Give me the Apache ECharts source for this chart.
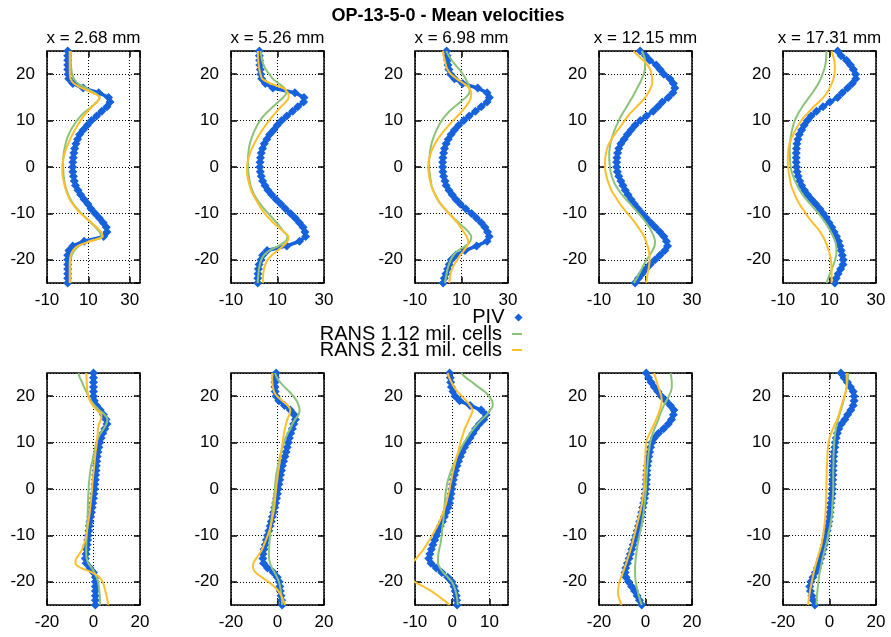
<!DOCTYPE html>
<html>
<head>
<meta charset="utf-8">
<script src="https://cdn.jsdelivr.net/npm/echarts@6/dist/echarts.min.js"></script>
<style>
html, body { margin: 0; padding: 0; background: #fff; }
#chart { width: 891px; height: 637px; }
</style>
</head>
<body>
<div id="chart"></div>
<script>
// profile positions (mm), top to bottom
const yPos = [
    25, 24, 23, 22, 21, 20, 19, 18, 17, 16,
    15, 14, 13, 12, 11, 10, 9, 8, 7, 6,
    5, 4, 3, 2, 1, 0, -1, -2, -3, -4,
    -5, -6, -7, -8, -9, -10, -11, -12, -13, -14,
    -15, -16, -17, -18, -19, -20, -21, -22, -23, -24,
    -25
]
const stations = ['x = 2.68 mm', 'x = 5.26 mm', 'x = 6.98 mm', 'x = 12.15 mm', 'x = 17.31 mm']
const seriesNames = ['PIV', 'RANS 1.12 mil. cells', 'RANS 2.31 mil. cells']
// [min, max, interval] of the x axes
const xRangesTop = [[-10, 35, 20], [-10, 30, 20], [-10, 30, 20], [-10, 30, 20], [-10, 30, 20]]
const xRangesBottom = [[-20, 20, 20], [-20, 20, 20], [-10, 15, 10], [-20, 20, 20], [-20, 20, 20]]

// top row
const top1Piv = [0, 0, 0, 0, 0, 0.2, 0.5, 2.5, 7.5, 15,
    19.8, 20.5, 19, 16.5, 14, 11.5, 9.5, 7.5, 5.8, 4.8,
    4, 3.4, 3, 2.7, 2.5, 2.4, 2.5, 2.8, 3.2, 3.8,
    5, 6.3, 8, 9.8, 11.3, 13.3, 15.3, 17.2, 18.7, 19,
    17.4, 8, 2.5, 0.6, 0, 0, 0, 0, 0, 0,
    0]
const top1Coarse = [1.5, 1.5, 1.5, 1.6, 1.8, 2.2, 3, 5, 9, 13,
    15.5, 14, 11.5, 8.8, 6.3, 4.5, 3, 1.6, 0.5, -0.4,
    -1, -1.5, -1.9, -2.1, -2.2, -2.2, -2.1, -1.9, -1.6, -1.2,
    -0.5, 0.3, 1.4, 2.8, 4.6, 6.6, 9, 11.3, 13.5, 15.4,
    16.3, 10.5, 5.5, 3.2, 2, 1.5, 1.3, 1.3, 1.3, 1.3,
    1.3]
const top1Fine = [1, 1, 1, 1, 1, 1.1, 1.4, 3, 7, 12,
    15.5, 14.2, 11.8, 9.6, 7.8, 6.2, 4.8, 3.5, 2.3, 1.2,
    0.2, -0.7, -1.4, -2, -2.4, -2.6, -2.6, -2.4, -2, -1.5,
    -0.8, 0, 1, 2.5, 4.2, 6.3, 8.8, 11.5, 14, 16.2,
    17, 11, 5, 2.5, 1.5, 1.1, 1, 1, 1, 1,
    1]
const top2Piv = [2.2, 2.2, 2.3, 2.4, 2.6, 2.8, 3.2, 4.8, 8, 17.5,
    21.4, 21.2, 18.7, 16.5, 14, 11.8, 9.9, 8.4, 6.6, 5.4,
    4.3, 3.6, 3, 2.7, 2.5, 2.4, 2.6, 3, 3.6, 4.6,
    5.9, 7.5, 9.4, 11.4, 13.4, 15.6, 17.6, 19.4, 21, 21.8,
    22.1, 19.5, 14, 5.5, 3.6, 2.9, 2.1, 1.8, 1.6, 1.5,
    1.5]
const top2Coarse = [2.7, 3, 3.4, 4, 5, 6.5, 8, 10.5, 13, 13.8,
    12.5, 10.3, 8, 6, 4, 2.5, 1.3, 0.3, -0.6, -1.3,
    -1.9, -2.3, -2.5, -2.7, -2.7, -2.7, -2.6, -2.3, -2, -1.6,
    -0.9, 0, 1.2, 2.6, 4.2, 6, 7.8, 9.6, 11.3, 12.8,
    14.3, 13.5, 10.5, 6.5, 4.2, 3, 2.4, 2, 1.8, 1.6,
    1.5]
const top2Fine = [1.6, 1.6, 1.7, 1.9, 2.2, 2.7, 3.4, 7, 12.5, 14.5,
    14.8, 13.5, 11.5, 9.7, 8, 6.4, 4.9, 3.5, 2.2, 1,
    0, -1, -1.8, -2.4, -2.9, -3.1, -3.1, -2.9, -2.5, -2,
    -1.4, -0.5, 0.7, 1.8, 3, 4.5, 6.2, 8.2, 10.5, 12.7,
    14.7, 14.3, 12.5, 10, 7.5, 5.8, 4.8, 4.2, 3.9, 3.7,
    3.7]
const top3Piv = [3.6, 3.8, 4, 4.2, 4.6, 5.3, 7, 10.5, 17, 21,
    22, 21, 18.5, 16, 13.3, 11, 8.8, 7, 5.5, 4.3,
    3.4, 2.7, 2.3, 2, 1.9, 1.9, 2, 2.3, 2.9, 3.4,
    4.6, 6, 7.6, 9.5, 11.8, 14.3, 16.4, 18.5, 20.1, 21.2,
    21.9, 21, 16.5, 11.5, 7.5, 5.6, 4.7, 4, 3.3, 2.6,
    2.1]
const top3Coarse = [3.4, 4.5, 5.8, 7.3, 9.2, 10.6, 11.8, 12.8, 13.5, 13.4,
    11.8, 9.5, 7, 4.8, 3, 1.5, 0.3, -0.7, -1.6, -2.3,
    -2.9, -3.3, -3.6, -3.8, -3.9, -3.9, -3.8, -3.5, -3.2, -2.9,
    -2.2, -1.3, -0.3, 1, 2.8, 4.6, 6.6, 8.8, 11, 13,
    14.2, 13.8, 11.8, 8.5, 6.6, 5.4, 4.6, 4, 3.6, 3.2,
    2.9]
const top3Fine = [2, 2.3, 2.8, 3.3, 4, 5.5, 8, 11, 13.3, 14.2,
    14, 13.2, 11.8, 10.2, 8.3, 6.4, 4.6, 2.8, 1.2, -0.2,
    -1.4, -2.4, -3.2, -3.8, -4.2, -4.3, -4.2, -3.9, -3.5, -3,
    -2.3, -1.3, -0.2, 1.2, 2.8, 4.6, 6.4, 8.2, 9.7, 11,
    12.2, 12.9, 12.5, 11, 9.4, 8.2, 6.9, 5.9, 5.3, 5,
    4.7]
const top4Piv = [7.7, 10, 11.8, 14.6, 16.3, 17.9, 20.5, 22, 22.6, 21.8,
    19.8, 17.2, 15.3, 13.3, 10.4, 7.8, 5.5, 3.8, 2.2, 0.8,
    -0.6, -1.5, -2, -2.3, -2.4, -2.4, -2.1, -1.5, -0.6, 0.3,
    1.3, 2.5, 3.8, 5.2, 6.8, 8.6, 10.3, 12.3, 14.2, 16.2,
    17.9, 19, 19.5, 18.3, 16.2, 14.1, 12, 10.2, 8.5, 7,
    5.5]
const top4Coarse = [8.4, 9.3, 9.8, 9.8, 9.7, 9.2, 8.4, 7.5, 6.4, 5.4,
    4.3, 3.1, 1.9, 0.7, -0.5, -1.5, -2.4, -3.3, -4, -4.6,
    -5.1, -5.4, -5.6, -5.6, -5.5, -5.3, -5, -4.5, -3.8, -2.8,
    -1.5, 0, 1.7, 3.5, 5.3, 7, 8.8, 10.3, 11.7, 12.7,
    13.6, 14.1, 13.9, 13, 11.8, 10.5, 9.3, 8.3, 7.3, 6.2,
    5]
const top4Fine = [4.8, 6.8, 9, 10.8, 12, 12.6, 12.9, 12.9, 12.2, 11.2,
    9.9, 8.2, 6.2, 4.2, 2.5, 1, -0.4, -1.9, -3.3, -4.6,
    -5.7, -6.5, -7, -7.3, -7.4, -7.4, -7.2, -6.8, -6.2, -5.5,
    -4.7, -3.5, -2.2, -0.9, 0.6, 2.3, 3.9, 5.5, 6.9, 8.2,
    9.4, 10.2, 10.9, 11.4, 11.7, 11.8, 11.6, 11.3, 10.9, 10.6,
    10.3]
const top5Piv = [13.5, 15, 17.3, 19, 20.3, 21.2, 21.3, 19.8, 17.8, 15.5,
    13.5, 10.2, 7.2, 4.4, 2.1, 0.5, -0.9, -2, -3, -3.6,
    -4, -4.2, -4.3, -4.3, -4.3, -4.2, -3.9, -3.5, -2.8, -2,
    -0.8, 0.6, 2.3, 4.1, 5.8, 7.3, 8.6, 9.8, 11, 12,
    13, 13.9, 14.5, 15, 15.5, 15.9, 15.8, 14.8, 13.7, 12.9,
    12.3]
const top5Coarse = [8.7, 8.6, 8.5, 8.2, 7.7, 7, 6.2, 5.2, 4, 2.7,
    1.2, -0.3, -1.7, -2.9, -4, -4.9, -5.6, -6.1, -6.5, -6.8,
    -7, -7.1, -7.1, -7, -6.9, -6.7, -6.3, -5.6, -4.8, -3.9,
    -2.8, -1.5, 0, 1.8, 3.5, 5.2, 6.8, 8.2, 9.5, 10.6,
    11.6, 12.4, 12.9, 13, 12.9, 12.4, 11.8, 11, 10.2, 9.4,
    8.7]
const top5Fine = [10.9, 11.5, 12, 12.3, 12.3, 12.1, 11.7, 11, 10, 8.9,
    7.4, 5.4, 3.2, 1.3, -0.5, -2.1, -3.4, -4.6, -5.6, -6.5,
    -7.2, -7.6, -7.8, -7.9, -7.9, -7.8, -7.6, -7.2, -6.9, -6.5,
    -5.7, -4.9, -4, -2.9, -1.6, -0.2, 1.2, 2.7, 4.5, 6,
    7.2, 8.2, 9, 9.7, 10.2, 10.6, 10.8, 10.9, 10.9, 10.9,
    10.9]

// bottom row
const bot1Piv = [0, 0, 0, 0, 0, 0, 0.3, 1.3, 2.9, 4.3,
    5.4, 5.8, 4.9, 4, 3.3, 2.7, 2.3, 1.9, 1.6, 1.4,
    1.2, 1.1, 0.9, 0.8, 0.6, 0.5, 0.2, 0, -0.3, -0.6,
    -0.9, -1.2, -1.5, -1.8, -2, -2.3, -2.5, -2.7, -3, -3.2,
    -3.5, -3.2, -1.5, 0, 0.8, 0.8, 0.8, 0.8, 0.8, 0.8,
    0.8]
const bot1Coarse = [-6.5, -5.9, -4.9, -4.1, -3.1, -2.2, -1.1, 0.5, 2.5, 4.8,
    6, 5.5, 4.4, 3, 2, 1.3, 0.8, 0.3, -0.1, -0.5,
    -1, -1.3, -1.6, -1.8, -2, -2.1, -2.2, -2.3, -2.4, -2.4,
    -2.5, -2.5, -2.6, -2.7, -2.8, -2.9, -3, -3.1, -3.1, -3.1,
    -2.9, -2.2, -0.8, 0.4, 1.3, 2, 2.3, 2.5, 2.7, 2.8,
    2.9]
const bot1Fine = [-3.1, -3, -2.9, -2.8, -2.6, -2.2, -1.5, -0.3, 1.4, 3.4,
    3.2, 2.4, 2, 1.8, 1.6, 1.4, 1.2, 0.9, 0.7, 0.5,
    0.3, 0.1, -0.1, -0.3, -0.5, -0.6, -0.8, -1, -1.2, -1.4,
    -1.6, -1.9, -2.2, -2.5, -2.8, -3.1, -3.5, -4.2, -4.9, -6,
    -7.4, -7.8, -5.5, -0.5, 2.5, 3.9, 4.6, 5.1, 5.6, 6,
    6.4]
const bot2Piv = [-0.6, -0.9, -1.1, -1.1, -1, -0.6, 0.6, 3, 5.5, 7.2,
    7.7, 7, 6.4, 5.7, 5.1, 4.7, 4.2, 3.7, 3.2, 2.6,
    2.1, 1.7, 1.3, 1, 0.6, 0.3, 0, -0.4, -0.8, -1.2,
    -1.7, -2.2, -2.7, -3.2, -3.7, -4.3, -4.8, -5.3, -5.8, -6.2,
    -6.3, -6, -4.3, -1.8, -0.1, 0.7, 1, 1.2, 1.5, 1.8,
    2]
const bot2Coarse = [-1.1, -0.2, 1.2, 3, 5, 6.8, 8.2, 9.1, 9.5, 9.1,
    7.6, 6.4, 5.5, 4.4, 3.5, 2.8, 2.2, 1.6, 1.1, 0.6,
    0.2, -0.2, -0.6, -0.8, -1, -1.1, -1.4, -1.6, -1.9, -2.1,
    -2.3, -2.5, -2.7, -2.9, -3.1, -3.2, -3.4, -3.5, -3.6, -3.7,
    -3.6, -3.2, -2.4, -1.3, -0.2, 0.6, 1.1, 1.4, 1.7, 1.9,
    2]
const bot2Fine = [-2.3, -2.3, -2.2, -2, -1.5, -0.2, 2, 4.4, 5.5, 5.1,
    4.2, 3.7, 3.2, 2.8, 2.5, 2.2, 1.9, 1.6, 1.3, 1,
    0.7, 0.4, 0.1, -0.1, -0.4, -0.6, -0.8, -1, -1.2, -1.4,
    -1.7, -2.1, -2.5, -3, -3.5, -4.2, -5, -5.8, -6.6, -7.8,
    -9.2, -10.4, -10.5, -9.4, -6.8, -4, -1.5, 0.4, 1.6, 2.5,
    3.2]
const bot3Piv = [-0.7, -0.5, -0.4, -0.2, 0.2, 0.8, 2, 4.8, 7.8, 9.1,
    8.5, 7.3, 6.3, 5.6, 4.8, 4.1, 3.3, 2.7, 2.2, 1.7,
    1.3, 0.9, 0.6, 0.3, 0.1, -0.1, -0.3, -0.5, -0.7, -1.1,
    -1.6, -2.1, -2.6, -3.2, -3.7, -4.2, -4.7, -5.2, -5.6, -6,
    -6.3, -5.7, -4.3, -2.8, -1.2, -0.1, 0.5, 0.8, 1.1, 1.2,
    1.3]
const bot3Coarse = [2.4, 3.7, 5.4, 7, 8.7, 9.9, 10.7, 10.9, 10.2, 9.3,
    8, 6.8, 5.8, 4.8, 4, 3.2, 2.5, 1.9, 1.3, 0.8,
    0.2, -0.3, -0.7, -1.1, -1.4, -1.6, -1.8, -1.9, -2, -2.1,
    -2.2, -2.3, -2.4, -2.6, -2.7, -2.8, -3, -3.2, -3.5, -3.7,
    -3.8, -3.8, -3.3, -2.4, -1.2, -0.1, 0.5, 0.9, 1.2, 1.4,
    1.5]
const bot3Fine = [-1.2, -0.8, -0.2, 0.5, 1.4, 2.6, 3.8, 4.8, 5.5, 5.1,
    4.5, 4, 3.4, 3, 2.6, 2.2, 1.9, 1.6, 1.2, 0.9,
    0.6, 0.3, 0, -0.2, -0.5, -0.7, -1, -1.3, -1.6, -2,
    -2.4, -2.9, -3.4, -4, -4.7, -5.4, -6.1, -6.9, -7.7, -8.7,
    -9.7, -11, -12, -12.2, -11.5, -10.1, -7.8, -5.6, -3.8, -2.2,
    -0.7]
const bot4Piv = [0.3, 1.3, 2.4, 3.8, 5.3, 6.8, 8.8, 10.7, 12.2, 12,
    11.2, 9.8, 7.8, 5.6, 3.8, 2.8, 2.2, 1.8, 1.4, 1.1,
    0.8, 0.6, 0.5, 0.4, 0.3, 0.2, -0.1, -0.4, -0.8, -1.2,
    -1.6, -2, -2.5, -3, -3.6, -4.2, -4.7, -5.3, -5.9, -6.5,
    -7.1, -7.8, -8.5, -8.8, -8.4, -7.3, -6, -4.7, -3.6, -2.6,
    -1.6]
const bot4Coarse = [10.8, 11.1, 11.3, 11.3, 10.9, 10, 9, 7.9, 7, 6.2,
    5.5, 4.7, 3.9, 3.1, 2.5, 2, 1.7, 1.4, 1.2, 1,
    0.8, 0.7, 0.5, 0.4, 0.3, 0.2, 0, -0.2, -0.4, -0.6,
    -0.8, -1.1, -1.4, -1.8, -2.2, -2.6, -3, -3.4, -3.7, -4,
    -4.2, -4.4, -4.5, -4.5, -4.4, -4.2, -3.8, -3.4, -2.9, -2.3,
    -1.6]
const bot4Fine = [3.7, 4.3, 4.9, 5.5, 6.2, 6.8, 7, 6.7, 6.1, 5.4,
    4.6, 3.7, 2.8, 1.8, 0.9, 0.3, 0.1, 0, -0.1, -0.2,
    -0.3, -0.3, -0.4, -0.5, -0.5, -0.6, -0.9, -1.2, -1.5, -1.9,
    -2.3, -2.8, -3.3, -3.8, -4.3, -4.8, -5.3, -5.8, -6.4, -7,
    -7.7, -8.3, -9, -9.7, -10.5, -11.2, -11.6, -11.8, -11.7, -11.1,
    -10.3]
const bot5Piv = [4.9, 6.3, 7.7, 9, 10.2, 10.6, 10.6, 10.2, 9.2, 7.8,
    6.6, 5.1, 4, 3.4, 2.9, 2.5, 2.3, 2, 1.8, 1.7,
    1.6, 1.5, 1.5, 1.4, 1.3, 1.3, 1.1, 0.9, 0.6, 0.4,
    0.2, 0, -0.3, -0.6, -1, -1.4, -1.8, -2.2, -2.7, -3.2,
    -3.8, -4.4, -5.2, -6.1, -7.1, -8, -8.5, -8.2, -7.6, -7,
    -6.3]
const bot5Coarse = [8.1, 7.9, 7.7, 7.4, 7, 6.5, 6, 5.5, 4.9, 4.3,
    3.7, 3.2, 2.8, 2.4, 2.2, 2, 1.9, 1.8, 1.7, 1.7,
    1.7, 1.6, 1.6, 1.6, 1.6, 1.6, 1.5, 1.4, 1.3, 1.2,
    1.1, 0.9, 0.6, 0.3, -0.2, -0.6, -1, -1.5, -2, -2.5,
    -3, -3.4, -3.8, -4.2, -4.5, -4.8, -5, -5.2, -5.4, -5.5,
    -5.6]
const bot5Fine = [7.4, 7.4, 7.4, 7.4, 7, 6.4, 5.8, 5.2, 4.6, 4,
    3.3, 2.4, 1.5, 0.7, 0, -0.4, -0.6, -0.8, -0.9, -1,
    -1.1, -1.2, -1.2, -1.3, -1.3, -1.3, -1.4, -1.4, -1.5, -1.6,
    -1.7, -1.8, -2, -2.2, -2.5, -2.7, -3.1, -3.5, -4, -4.6,
    -5.2, -5.8, -6.3, -6.8, -7.2, -7.6, -8, -8.4, -8.7, -9,
    -9.2]

const topRow = [
    [top1Piv, top1Coarse, top1Fine],
    [top2Piv, top2Coarse, top2Fine],
    [top3Piv, top3Coarse, top3Fine],
    [top4Piv, top4Coarse, top4Fine],
    [top5Piv, top5Coarse, top5Fine]
]
const bottomRow = [
    [bot1Piv, bot1Coarse, bot1Fine],
    [bot2Piv, bot2Coarse, bot2Fine],
    [bot3Piv, bot3Coarse, bot3Fine],
    [bot4Piv, bot4Coarse, bot4Fine],
    [bot5Piv, bot5Coarse, bot5Fine]
]

const FONT = '"Liberation Sans", Arial, sans-serif'
const colLeft = [47, 231, 415, 599, 783]
const rowTop = [51, 373]
const PW = 93, PH = 232
const colors = ['#1662dd', '#8cc37a', '#fdbf2d']

const seriesStyle = [
    {
        symbol: 'diamond', symbolSize: 9,
        itemStyle: { color: colors[0] },
        lineStyle: { color: colors[0], width: 3.5 }
    },
    {
        symbol: 'none', smooth: 0.3,
        itemStyle: { color: colors[1] },
        lineStyle: { color: colors[1], width: 2 }
    },
    {
        symbol: 'none', smooth: 0.3,
        itemStyle: { color: colors[2] },
        lineStyle: { color: colors[2], width: 2 }
    }
]

let grid = [], xAxis = [], yAxis = [], series = []
let title = [{
    text: 'OP-13-5-0 - Mean velocities',
    left: 448, top: 7, textAlign: 'center', padding: 0,
    textStyle: { fontFamily: FONT, fontSize: 18, fontWeight: 'bold', color: '#000' }
}]

const tick = { inside: true, length: 6, lineStyle: { color: '#000', width: 1.5 } }
const noLine = { show: false, onZero: false }
const dotted = { show: true, lineStyle: { color: '#000', width: 1, type: [1, 2] } }
const label = { fontFamily: FONT, fontSize: 17, color: '#000' }

function addPanel(row, col, range, profiles) {
    let gi = grid.length
    grid.push({
        left: colLeft[col], top: rowTop[row], width: PW, height: PH,
        show: true, borderColor: '#000', borderWidth: 1.5, backgroundColor: 'transparent'
    })
    let [xmin, xmax, step] = range
    let cut = (xmax - xmin) % step !== 0
    xAxis.push({
        gridIndex: gi, type: 'value', position: 'bottom',
        min: xmin, max: xmax, interval: step,
        axisLine: noLine, axisTick: tick,
        axisLabel: Object.assign({ margin: 9, showMaxLabel: !cut }, label),
        splitLine: dotted
    })
    xAxis.push({
        gridIndex: gi, type: 'value', position: 'top',
        min: xmin, max: xmax, interval: step,
        axisLine: noLine, axisTick: tick,
        axisLabel: { show: false }, splitLine: { show: false }
    })
    yAxis.push({
        gridIndex: gi, type: 'value', position: 'left',
        min: -25, max: 25, splitNumber: 5,
        axisLine: noLine, axisTick: tick,
        axisLabel: Object.assign({ margin: 12, showMinLabel: false, showMaxLabel: false }, label),
        splitLine: dotted
    })
    yAxis.push({
        gridIndex: gi, type: 'value', position: 'right',
        min: -25, max: 25, splitNumber: 5,
        axisLine: noLine, axisTick: tick,
        axisLabel: { show: false }, splitLine: { show: false }
    })
    profiles.forEach((vals, k) => {
        series.push(Object.assign({
            name: seriesNames[k], type: 'line',
            xAxisIndex: 2 * gi, yAxisIndex: 2 * gi,
            data: vals.map((v, j) => [v, yPos[j]]),
            clip: true, animation: false, z: 2 + k
        }, seriesStyle[k]))
    })
}

topRow.forEach((p, c) => {
    addPanel(0, c, xRangesTop[c], p)
    title.push({
        text: stations[c], left: colLeft[c] + PW / 2, top: 30, textAlign: 'center', padding: 0,
        textStyle: { fontFamily: FONT, fontSize: 17, fontWeight: 'normal', color: '#000' }
    })
})
bottomRow.forEach((p, c) => addPanel(1, c, xRangesBottom[c], p))

// key: one block per entry, text right-aligned with the sample on its right
const legendTops = [307.5, 324, 340]
const legend = seriesNames.map((n, k) => ({
    data: [{ name: n, icon: k === 0 ? 'diamond' : 'rect' }],
    orient: 'vertical', right: k === 0 ? 368.5 : 369, top: legendTops[k],
    align: 'right', padding: 0,
    itemWidth: k === 0 ? 8 : 10, itemHeight: k === 0 ? 8 : 2,
    selectedMode: false,
    textStyle: { fontFamily: FONT, fontSize: 20, color: '#000', lineHeight: 16, padding: [0, 5, 0, 0] }
}))

let chart = echarts.init(document.getElementById('chart'))
chart.setOption({
    backgroundColor: '#fff',
    animation: false,
    title: title,
    legend: legend,
    grid: grid,
    xAxis: xAxis,
    yAxis: yAxis,
    series: series
})
window.addEventListener('resize', () => {
    chart.resize()
})
</script>
</body>
</html>
